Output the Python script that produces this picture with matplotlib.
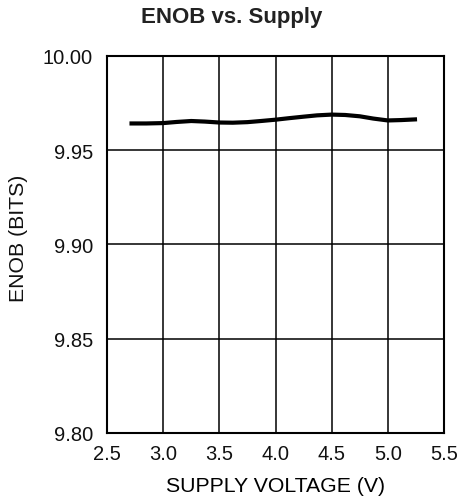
import matplotlib
matplotlib.use("Agg")
import matplotlib.pyplot as plt

plt.rcParams['font.family'] = ['Liberation Sans', 'DejaVu Sans']

supply_v = [2.7, 2.85, 3.0, 3.12, 3.25, 3.37, 3.5, 3.62, 3.75, 3.87, 4.0, 4.12,
            4.25, 4.37, 4.5, 4.62, 4.75, 4.87, 5.0, 5.12, 5.26]
enob = [9.9642, 9.9642, 9.9644, 9.9650, 9.9655, 9.9652, 9.9647, 9.9646, 9.9649,
        9.9655, 9.9662, 9.9670, 9.9678, 9.9685, 9.9689, 9.9687, 9.9680, 9.9668,
        9.9658, 9.9660, 9.9664]

x_ticks = [2.5, 3.0, 3.5, 4.0, 4.5, 5.0, 5.5]
y_ticks = [9.80, 9.85, 9.90, 9.95, 10.00]

fig = plt.figure(figsize=(4.64, 5.02), dpi=100)
ax = fig.add_axes([0.2306, 0.1355, 0.7263, 0.751])

ax.plot(supply_v, enob, color='black', linewidth=3, solid_capstyle='butt',
        solid_joinstyle='round', zorder=3)

ax.set_xlim(2.5, 5.5)
ax.set_ylim(9.80, 10.00)
ax.set_xticks(x_ticks)
ax.set_xticklabels([f"{v:.1f}" for v in x_ticks])
ax.set_yticks(y_ticks)
ax.set_yticklabels([f"{v:.2f}" for v in y_ticks])
ax.tick_params(length=0, labelsize=14.5, colors='#111111')
ax.tick_params(axis='x', pad=8)
ax.tick_params(axis='y', pad=10)

ax.grid(True, color='black', linewidth=1.1)
for s in ax.spines.values():
    s.set_linewidth(1.5)
    s.set_color('black')

ax.set_xlabel("SUPPLY VOLTAGE (V)", fontsize=15.3, labelpad=9)
fig.text(0.039, 1 - 238 / 502, "ENOB (BITS)", fontsize=15.3, rotation=90,
         ha='center', va='center', color='#111111')
fig.text(0.5, 1 - 18 / 502, "ENOB vs. Supply", fontsize=16, fontweight='bold',
         ha='center', va='center', color='#222222')

fig.savefig("out.png", dpi=100)
